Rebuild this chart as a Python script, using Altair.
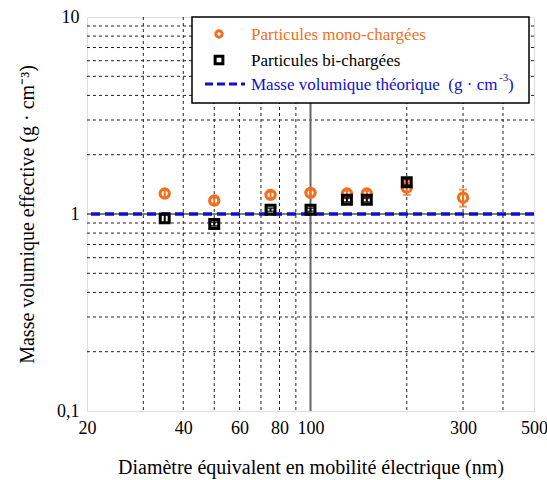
import altair as alt
import pandas as pd

# Effective density measurements vs electrical mobility diameter
diam_mono = [35, 50, 75, 100, 130, 150, 200, 300]
rho_mono = [1.27, 1.17, 1.25, 1.28, 1.27, 1.27, 1.36, 1.21]
err_mono = [0.05, 0.04, 0.04, 0.04, 0.04, 0.04, 0.11, 0.12]

diam_bi = [35, 50, 75, 100, 130, 150, 200]
rho_bi = [0.95, 0.89, 1.05, 1.05, 1.18, 1.18, 1.45]
err_bi = [0.05, 0.02, 0.02, 0.02, 0.03, 0.03, 0.05]

rho_theo = 1.0

x_ticks = [20, 40, 60, 80, 100, 300, 500]
y_ticks = [0.1, 1, 10]
x_grid_minor = [30, 40, 50, 60, 70, 80, 90, 200, 300, 400]
x_grid_major = [100]
y_grid_minor = [0.2, 0.3, 0.4, 0.5, 0.6, 0.7, 0.8, 0.9, 2, 3, 4, 5, 6, 7, 8, 9]

legend_labels = ["Particules mono-chargées", "Particules bi-chargées",
                 "Masse volumique théorique\u00a0\u00a0(g · cm"]

FONT = "Liberation Serif"
ORANGE = "#F26F1E"
BLUE = "#1010CC"

mono = pd.DataFrame({"d": diam_mono, "rho": rho_mono, "err": err_mono})
mono["lo"] = mono["rho"] - mono["err"]
mono["hi"] = mono["rho"] + mono["err"]
bi = pd.DataFrame({"d": diam_bi, "rho": rho_bi, "err": err_bi})
bi["lo"] = bi["rho"] - bi["err"]
bi["hi"] = bi["rho"] + bi["err"]

xs = alt.Scale(type="log", domain=[20, 500], nice=False)
ys = alt.Scale(type="log", domain=[0.1, 10], nice=False)

x_axis = alt.Axis(values=x_ticks, format="~g", grid=False, ticks=False, domain=False,
                  labelFlush=False, labelOverlap=False,
                  labelFont=FONT, labelFontSize=18, labelColor="black", labelPadding=8,
                  title="Diamètre équivalent en mobilité électrique (nm)",
                  titleFont=FONT, titleFontSize=20, titleFontWeight="normal",
                  titleColor="black", titleY=56, titleBaseline="middle")
y_axis = alt.Axis(values=y_ticks, grid=False, ticks=False, domain=False,
                  labelFlush=False, labelOverlap=False,
                  labelExpr="replace(format(datum.value, '~g'), '.', ',')",
                  labelFont=FONT, labelFontSize=18, labelColor="black", labelPadding=8,
                  title="Masse volumique effective (g · cm⁻³)",
                  titleFont=FONT, titleFontSize=20, titleFontWeight="normal",
                  titleColor="black", titleX=-60, titleY=197, titleAngle=-90,
                  titleBaseline="middle", titleAlign="center")

# Axes carried by an invisible layer
base = alt.Chart(pd.DataFrame({"d": [20, 500], "rho": [0.1, 10]})).mark_point(opacity=0).encode(
    x=alt.X("d:Q", scale=xs, axis=x_axis),
    y=alt.Y("rho:Q", scale=ys, axis=y_axis),
)

grid_dash = [3, 3]
vgrid = alt.Chart(pd.DataFrame({"d": x_grid_minor})).mark_rule(
    color="#222", strokeWidth=1, strokeDash=grid_dash).encode(x=alt.X("d:Q", scale=xs))
hgrid = alt.Chart(pd.DataFrame({"rho": y_grid_minor})).mark_rule(
    color="#222", strokeWidth=1, strokeDash=grid_dash).encode(y=alt.Y("rho:Q", scale=ys))
vmajor = alt.Chart(pd.DataFrame({"d": x_grid_major})).mark_rule(
    color="#666", strokeWidth=2).encode(x=alt.X("d:Q", scale=xs))
hmajor = alt.Chart(pd.DataFrame({"rho": [rho_theo]})).mark_rule(
    color="black", strokeWidth=1).encode(y=alt.Y("rho:Q", scale=ys))
theo = alt.Chart(pd.DataFrame({"rho": [rho_theo]})).mark_rule(
    color=BLUE, strokeWidth=3.5, strokeDash=[9, 5]).encode(y=alt.Y("rho:Q", scale=ys))

# Error bars with caps
def errbars(df, color):
    bar = alt.Chart(df).mark_rule(color=color, strokeWidth=2).encode(
        x=alt.X("d:Q", scale=xs), y=alt.Y("lo:Q", scale=ys), y2="hi:Q")
    cap_lo = alt.Chart(df).mark_tick(color=color, orient="horizontal", size=8, thickness=2).encode(
        x=alt.X("d:Q", scale=xs), y=alt.Y("lo:Q", scale=ys))
    cap_hi = alt.Chart(df).mark_tick(color=color, orient="horizontal", size=8, thickness=2).encode(
        x=alt.X("d:Q", scale=xs), y=alt.Y("hi:Q", scale=ys))
    return bar + cap_lo + cap_hi

mono_pts = alt.Chart(mono).mark_point(shape="circle", size=85, strokeWidth=3.2,
                                      color=ORANGE, filled=False, opacity=1).encode(
    x=alt.X("d:Q", scale=xs), y=alt.Y("rho:Q", scale=ys))
bi_pts = alt.Chart(bi).mark_point(shape="square", size=80, strokeWidth=3,
                                  color="black", filled=False, opacity=1).encode(
    x=alt.X("d:Q", scale=xs), y=alt.Y("rho:Q", scale=ys))

# Legend panel
one = pd.DataFrame({"k": [0]})
leg_box = alt.Chart(one).mark_rect(fill="white", stroke="black", strokeWidth=1.5).encode(
    x=alt.value(105), x2=alt.value(442), y=alt.value(0), y2=alt.value(86))
leg_circle = alt.Chart(one).mark_point(shape="circle", size=40, strokeWidth=3, color=ORANGE,
                                       filled=False, opacity=1).encode(
    x=alt.value(132), y=alt.value(17))
leg_square = alt.Chart(one).mark_point(shape="square", size=60, strokeWidth=3, color="black",
                                       filled=False, opacity=1).encode(
    x=alt.value(132), y=alt.value(43))
leg_line = alt.Chart(one).mark_rule(color=BLUE, strokeWidth=3, strokeDash=[8, 4]).encode(
    x=alt.value(118), x2=alt.value(158), y=alt.value(67))

def leg_text(txt, x, y, color, size=17):
    return alt.Chart(one).mark_text(text=txt, font=FONT, fontSize=size, color=color,
                                    align="left", baseline="middle").encode(
        x=alt.value(x), y=alt.value(y))

leg_t1 = leg_text(legend_labels[0], 164, 18, ORANGE)
leg_t2 = leg_text(legend_labels[1], 164, 44, "black")
leg_t3 = leg_text(legend_labels[2], 164, 68, BLUE)
leg_sup = leg_text("-3", 412, 61, BLUE, size=11)
leg_close = leg_text(")", 421, 68, BLUE)

chart = alt.layer(
    base, vgrid, hgrid, vmajor, hmajor, theo,
    errbars(mono, ORANGE), mono_pts, errbars(bi, "black"), bi_pts,
    leg_box, leg_circle, leg_square, leg_line, leg_t1, leg_t2, leg_t3, leg_sup, leg_close,
).properties(
    width=447, height=394,
    autosize=alt.AutoSizeParams(type="none"),
    padding={"left": 87, "top": 17, "right": 13, "bottom": 69},
).configure_view(
    stroke="black", strokeWidth=1.5
).configure(background="white")

chart.save("out.html", embed_options={"renderer": "svg", "actions": False})
